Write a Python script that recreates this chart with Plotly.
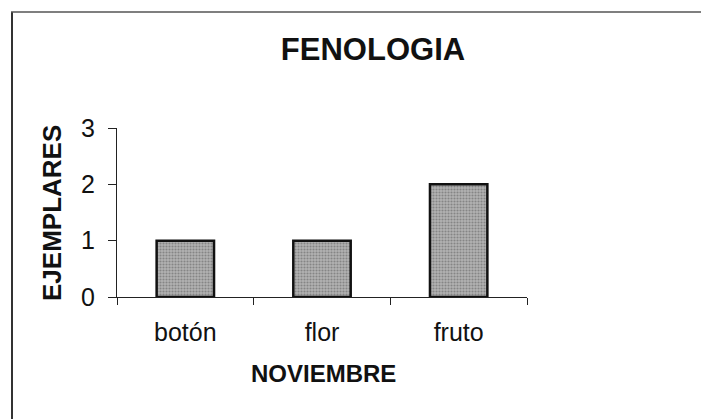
import plotly.graph_objects as go

categories = ["botón", "flor", "fruto"]
values = [1, 1, 2]
y_ticks = [0, 1, 2, 3]

title_text = "FENOLOGIA"
x_title = "NOVIEMBRE"
y_title = "EJEMPLARES"

FONT = "Liberation Sans, Arial, sans-serif"

# the page body adds an 8px margin, so the figure is shrunk and shifted by it
OFF = 8
W, H = 709 - OFF, 419 - OFF
PX0, PX1 = 117, 527      # plot area in screen pixels (x)
PY0, PY1 = 128, 297      # plot area in screen pixels (y: top, bottom)
L, T = PX0 - OFF, PY0 - OFF
R = W - L - (PX1 - PX0)
B = H - T - (PY1 - PY0)
pw, ph = PX1 - PX0, PY1 - PY0

def px_x(px):
    return (px - PX0) / pw

def px_y(py):
    return (PY1 - py) / ph

fig = go.Figure(
    go.Bar(
        x=categories,
        y=values,
        marker=dict(
            color="#a8a8a8",
            line=dict(color="#111111", width=2.5),
            pattern=dict(shape=".", fgcolor="#585858", bgcolor="#b2b2b2",
                         size=3, solidity=0.4),
        ),
        width=0.42,
        showlegend=False,
    )
)

fig.update_layout(
    width=W, height=H,
    margin=dict(l=L, r=R, t=T, b=B, autoexpand=False),
    paper_bgcolor="white",
    plot_bgcolor="white",
    font=dict(family=FONT, color="#111111", size=25),
    title=dict(
        text="<b>" + title_text + "</b>",
        font=dict(family=FONT, size=31, color="#111111"),
        x=(373 - OFF) / W, xanchor="center", xref="container",
        y=1 - (49 - OFF) / H, yanchor="middle", yref="container",
    ),
    xaxis=dict(
        type="category",
        range=[-0.5, 2.5],
        showline=True, linecolor="#222222", linewidth=1.2,
        ticks="outside", tickson="boundaries", ticklen=7, tickwidth=1.2,
        tickcolor="#222222",
        showgrid=False, zeroline=False,
        tickfont=dict(family=FONT, size=25, color="#111111"),
        ticklabelstandoff=13,
    ),
    yaxis=dict(
        range=[0, 3],
        tickvals=y_ticks,
        ticktext=[str(v) for v in y_ticks],
        showline=True, linecolor="#222222", linewidth=1.2,
        ticks="outside", ticklen=8, tickwidth=1.2, tickcolor="#222222",
        showgrid=False, zeroline=False,
        tickfont=dict(family=FONT, size=25, color="#111111"),
        ticklabelstandoff=8,
    ),
    annotations=[
        dict(text="<b>" + x_title + "</b>", xref="paper", yref="paper",
             x=px_x(323), y=px_y(373), showarrow=False,
             xanchor="center", yanchor="middle",
             font=dict(family=FONT, size=24, color="#111111")),
        dict(text="<b>" + y_title + "</b>", xref="paper", yref="paper",
             x=px_x(52), y=px_y(213), showarrow=False, textangle=-90,
             xanchor="center", yanchor="middle",
             font=dict(family=FONT, size=26, color="#111111")),
    ],
    shapes=[
        dict(type="line", xref="paper", yref="paper",
             x0=px_x(12), x1=px_x(12), y0=px_y(12), y1=px_y(440),
             line=dict(color="#333333", width=2)),
        dict(type="line", xref="paper", yref="paper",
             x0=px_x(11), x1=px_x(720), y0=px_y(12), y1=px_y(12),
             line=dict(color="#555555", width=1.5)),
    ],
)

fig.write_html("out.html")
